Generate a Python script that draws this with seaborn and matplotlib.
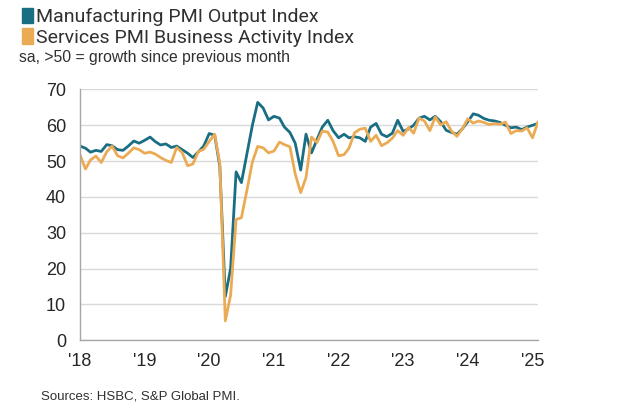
import matplotlib
matplotlib.use("Agg")
import matplotlib.pyplot as plt
import matplotlib.dates as mdates
from matplotlib.patches import Patch
import pandas as pd
import seaborn as sns

# monthly readings, Jan 2018 - Feb 2025
manufacturing = [
    54.2, 53.6, 52.5, 53.0, 52.7, 54.6, 54.3, 53.2, 53.0, 54.2, 55.6, 55.0,
    55.8, 56.7, 55.5, 54.5, 54.8, 53.8, 54.2, 53.2, 52.2, 51.0, 52.6, 54.2,
    57.7, 57.2, 48.5, 12.2, 20.0, 47.0, 44.0, 52.0, 60.0, 66.4, 64.8, 61.5,
    62.5, 62.0, 59.5, 58.0, 55.0, 47.5, 57.5, 52.3, 56.0, 59.5, 61.4, 58.5,
    56.5, 57.5, 56.5, 56.8, 56.5, 55.5, 59.5, 60.5, 57.5, 56.8, 57.8, 61.4,
    58.3, 59.0, 60.0, 62.0, 62.5, 61.5, 62.5, 61.0, 58.6, 58.0, 57.5, 59.0,
    61.0, 63.2, 62.8, 61.9, 61.4, 61.2, 60.8, 60.0, 59.3, 59.5, 58.8, 59.5,
    60.0, 60.5,
]
services = [
    51.7, 47.8, 50.3, 51.4, 49.6, 52.6, 54.2, 51.5, 50.9, 52.2, 53.7, 53.2,
    52.2, 52.5, 52.0, 51.0, 50.2, 49.6, 53.8, 52.4, 48.7, 49.2, 52.7, 53.3,
    55.5, 57.5, 49.3, 5.4, 12.6, 33.7, 34.2, 41.8, 49.8, 54.1, 53.7, 52.3,
    52.8, 55.3, 54.6, 54.0, 46.4, 41.2, 45.4, 56.7, 55.2, 58.4, 58.1, 55.5,
    51.5, 51.8, 53.6, 57.9, 58.9, 59.2, 55.5, 57.2, 54.3, 55.1, 56.4, 58.5,
    57.2, 59.4, 57.8, 62.0, 61.2, 58.5, 62.3, 60.1, 61.0, 58.4, 56.9, 59.0,
    61.8, 60.6, 61.2, 60.8, 60.2, 60.5, 60.3, 60.9, 57.7, 58.5, 58.4, 59.3,
    56.5, 61.0,
]
dates = pd.date_range("2018-01-01", periods=len(manufacturing), freq="MS")

labels = ["Manufacturing PMI Output Index", "Services PMI Business Activity Index"]
colors = ["#1a6e83", "#ebab55"]

df = pd.DataFrame({
    "date": list(dates) * 2,
    "value": manufacturing + services,
    "series": [labels[0]] * len(dates) + [labels[1]] * len(dates),
})

sns.set_style("white")
narrow = ["Liberation Sans", "DejaVu Sans"]

fig = plt.figure(figsize=(6.3, 4.2), dpi=100)
ax = fig.add_axes([0.127, 0.19, 0.727, 0.597])

sns.lineplot(data=df, x="date", y="value", hue="series", palette=colors,
             linewidth=2.0, ax=ax, legend=False)

ax.set_xlim(pd.Timestamp("2018-01-01"), pd.Timestamp("2025-02-01"))
ax.set_ylim(0, 70)
ax.set_yticks(range(0, 71, 10))
ax.xaxis.set_major_locator(mdates.YearLocator())
ax.xaxis.set_major_formatter(mdates.DateFormatter("'%y"))
ax.grid(axis="y", color="#d9d9d9", linewidth=1.0)
ax.set_axisbelow(True)
ax.set_xlabel("")
ax.set_ylabel("")
for s in ["top", "right"]:
    ax.spines[s].set_visible(False)
for s in ["left", "bottom"]:
    ax.spines[s].set_color("#a6a6a6")
    ax.spines[s].set_linewidth(1.0)
ax.tick_params(axis="x", length=4, color="#a6a6a6", pad=5, labelsize=13, labelcolor="#262626")
ax.tick_params(axis="y", length=3, color="#a6a6a6", pad=7, labelsize=13, labelcolor="#262626")
for t in ax.get_xticklabels() + ax.get_yticklabels():
    t.set_family(narrow)

handles = [Patch(color=c) for c in colors]
fig.legend(handles, labels, loc="upper left", bbox_to_anchor=(0.022, 1.0),
           frameon=False, handlelength=0.6, handleheight=0.85,
           handletextpad=0.15, labelspacing=0.1, borderaxespad=0.0,
           prop={"family": ["Roboto", "DejaVu Sans"], "size": 14})
for t in fig.legends[0].get_texts():
    t.set_color("#303030")

fig.text(0.03, 0.862, "sa, >50 = growth since previous month", fontsize=11.3,
         color="#303030", family=narrow, va="center")
fig.text(0.065, 0.055, "Sources: HSBC, S&P Global PMI.", fontsize=9.5,
         color="#303030", family=narrow, va="center")

fig.savefig("out.png", dpi=100)
